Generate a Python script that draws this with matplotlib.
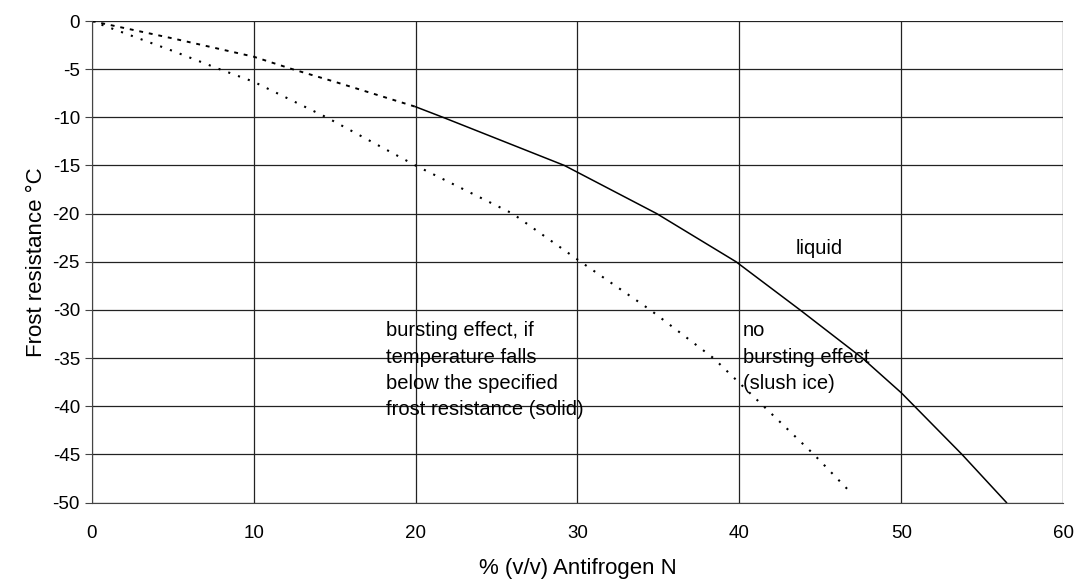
import matplotlib
matplotlib.use("Agg")
import matplotlib.pyplot as plt

plt.rcParams['font.family'] = ['Liberation Sans', 'DejaVu Sans']
plt.rcParams['axes.unicode_minus'] = False

# upper boundary (liquid), dashed part then solid part
upper_dash_x = [0, 5, 10, 12.4, 15, 20]
upper_dash_y = [0, -1.8, -3.7, -5.0, -6.3, -8.9]
upper_solid_x = [20, 21.7, 29.2, 34.9, 39.8, 43.75, 47.6, 50, 53.75, 56.5]
upper_solid_y = [-8.9, -10.0, -15.0, -20.0, -25.0, -30.0, -35.0, -38.6, -45.0, -50.0]

# lower boundary (solid/bursting), dotted
lower_x = [0, 5, 7.9, 10, 14.5, 20, 26.0, 30.2, 34.5, 38.4, 41.5, 44.6, 46.9]
lower_y = [0, -3.1, -5.0, -6.3, -10.0, -15.0, -20.0, -25.0, -30.0, -35.0, -40.0, -45.0, -49.0]

xticks = [0, 10, 20, 30, 40, 50, 60]
yticks = [0, -5, -10, -15, -20, -25, -30, -35, -40, -45, -50]

fig = plt.figure(figsize=(10.78, 5.85), dpi=100)
ax = fig.add_axes([0.0851, 0.141, 0.9011, 0.823])

ax.plot(upper_dash_x, upper_dash_y, color='black', lw=1.4, linestyle=(0, (2, 3)))
ax.plot(upper_solid_x, upper_solid_y, color='black', lw=1.1)
ax.plot(lower_x, lower_y, color='black', lw=1.5, linestyle=(0, (1, 4)))

ax.set_xlim(0, 60)
ax.set_ylim(-50, 0)
ax.set_xticks(xticks)
ax.set_yticks(yticks)
ax.grid(True, color='#222222', lw=0.9)
ax.set_axisbelow(True)
for s in ['top', 'right']:
    ax.spines[s].set_visible(False)
ax.spines['left'].set_color('#444444')
ax.spines['bottom'].set_color('#444444')
ax.tick_params(axis='x', length=0, pad=16, labelsize=13.5)
ax.tick_params(axis='y', length=5, direction='out', color='#444444', labelsize=13.5)

ax.set_xlabel('% (v/v) Antifrogen N', fontsize=16, labelpad=12)
ax.set_ylabel('Frost resistance °C', fontsize=16, labelpad=4)

ax.text(43.5, -24.2, 'liquid', fontsize=14.5, va='baseline')
ax.text(18.2, -31.2, 'bursting effect, if\ntemperature falls\nbelow the specified\nfrost resistance (solid)',
        fontsize=14.5, va='top', linespacing=1.48)
ax.text(40.2, -31.2, 'no\nbursting effect\n(slush ice)', fontsize=14.5, va='top', linespacing=1.48)

fig.savefig('out.png', dpi=100)
